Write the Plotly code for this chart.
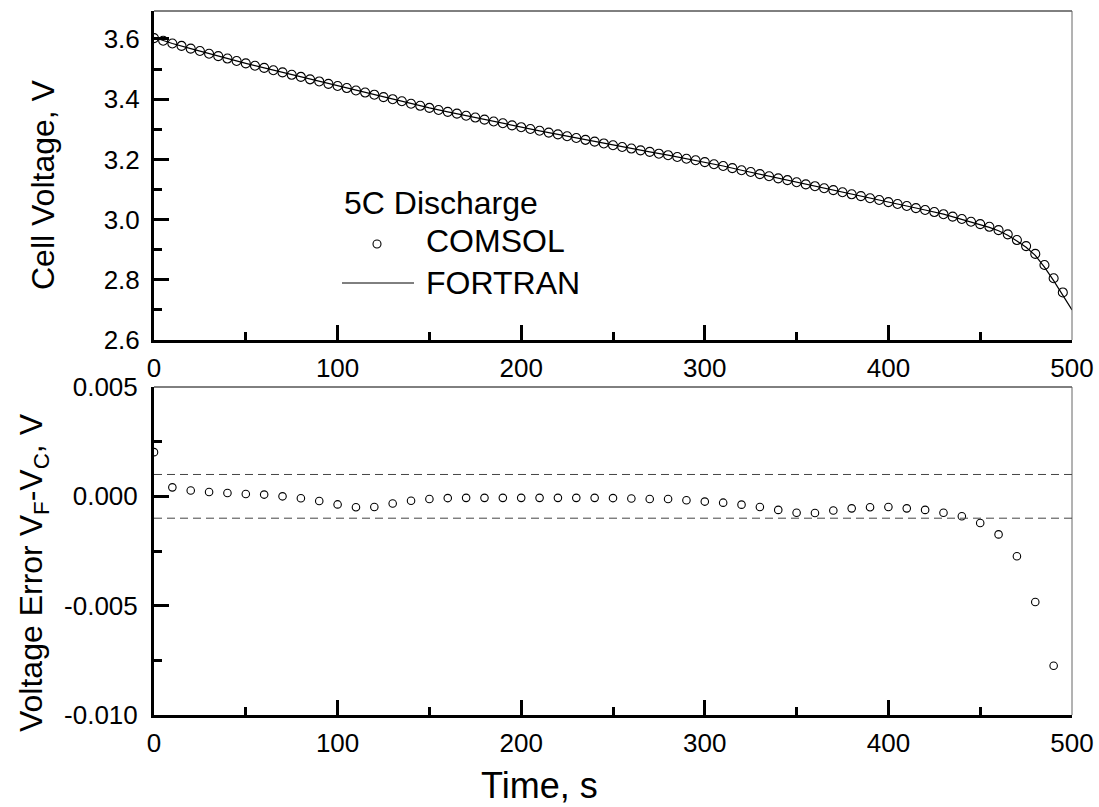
import plotly.graph_objects as go

# ---- data ----------------------------------------------------------------
# COMSOL cell voltage, sampled every 5 s (0 ... 495 s)
comsol_time = list(range(0, 500, 5))
comsol_voltage = [
    3.603, 3.594, 3.585, 3.577, 3.568, 3.560, 3.551, 3.543, 3.535, 3.527,
    3.519, 3.511, 3.504, 3.496, 3.489, 3.481, 3.474, 3.466, 3.459, 3.451,
    3.444, 3.437, 3.429, 3.422, 3.415, 3.407, 3.400, 3.393, 3.385, 3.378,
    3.371, 3.364, 3.358, 3.352, 3.345, 3.339, 3.332, 3.326, 3.320, 3.313,
    3.307, 3.301, 3.295, 3.289, 3.283, 3.277, 3.271, 3.265, 3.259, 3.253,
    3.247, 3.241, 3.236, 3.230, 3.225, 3.219, 3.214, 3.208, 3.202, 3.197,
    3.191, 3.184, 3.178, 3.171, 3.164, 3.158, 3.151, 3.144, 3.137, 3.131,
    3.124, 3.117, 3.111, 3.104, 3.098, 3.091, 3.084, 3.078, 3.071, 3.065,
    3.058, 3.052, 3.045, 3.038, 3.032, 3.025, 3.018, 3.010, 3.002, 2.993,
    2.985, 2.976, 2.965, 2.951, 2.932, 2.912, 2.886, 2.849, 2.805, 2.758,
]

# FORTRAN cell voltage
fortran_time = [
    0, 10, 20, 30, 40, 50, 60, 70, 80, 90, 100, 110, 120, 130, 140, 150,
    160, 170, 180, 190, 200, 210, 220, 230, 240, 250, 260, 270, 280, 290,
    300, 310, 320, 330, 340, 350, 360, 370, 380, 390, 400, 410, 420, 430,
    440, 445, 450, 455, 460, 465, 470, 475, 480, 485, 490, 495, 500,
]
fortran_voltage = [
    3.605, 3.585, 3.568, 3.551, 3.535, 3.519, 3.504, 3.489, 3.474, 3.459,
    3.444, 3.429, 3.415, 3.400, 3.385, 3.371, 3.358, 3.345, 3.332, 3.320,
    3.307, 3.295, 3.283, 3.271, 3.259, 3.247, 3.236, 3.225, 3.214, 3.202,
    3.191, 3.178, 3.164, 3.151, 3.137, 3.124, 3.111, 3.098, 3.084, 3.071,
    3.058, 3.045, 3.032, 3.018, 3.001, 2.992, 2.984, 2.974, 2.963, 2.948,
    2.929, 2.908, 2.881, 2.842, 2.797, 2.750, 2.700,
]

# Voltage error V_F - V_C, every 10 s (0 ... 490 s)
error_time = list(range(0, 500, 10))
error_value = [
    0.00202, 0.00041, 0.00027, 0.00020, 0.00015, 0.00011, 0.00008, 0.00000,
    -0.00009, -0.00021, -0.00037, -0.00050, -0.00049, -0.00033, -0.00020,
    -0.00012, -0.00008, -0.00007, -0.00007, -0.00007, -0.00007, -0.00007,
    -0.00007, -0.00007, -0.00007, -0.00008, -0.00010, -0.00012, -0.00012,
    -0.00018, -0.00024, -0.00029, -0.00038, -0.00049, -0.00062, -0.00075,
    -0.00076, -0.00065, -0.00055, -0.00050, -0.00049, -0.00055, -0.00062,
    -0.00075, -0.00091, -0.00122, -0.00174, -0.00274, -0.00483, -0.00775,
]

# tolerance band drawn as dashed lines
error_limits = [0.001, -0.001]

top_yticks = [2.6, 2.8, 3.0, 3.2, 3.4, 3.6]
bottom_yticks = [-0.010, -0.005, 0.000, 0.005]
bottom_yticktext = ["-0.010", "-0.005", "0.000", "0.005"]
time_ticks = [0, 100, 200, 300, 400, 500]

# ---- figure --------------------------------------------------------------
W, H = 1099, 807
FONT = "Arial, Liberation Sans, Helvetica, sans-serif"


def px_x(p):
    return p / W


def px_y(p):
    return 1 - p / H


fig = go.Figure()

fig.add_trace(go.Scatter(
    x=fortran_time, y=fortran_voltage, mode="lines",
    line=dict(color="black", width=1.2), name="FORTRAN",
    xaxis="x", yaxis="y", showlegend=False,
))
fig.add_trace(go.Scatter(
    x=comsol_time, y=comsol_voltage, mode="markers",
    marker=dict(symbol="circle-open", size=9, color="black",
                line=dict(width=1.1, color="black")),
    name="COMSOL", xaxis="x", yaxis="y", showlegend=False,
))
fig.add_trace(go.Scatter(
    x=error_time, y=error_value, mode="markers",
    marker=dict(symbol="circle-open", size=7.5, color="black",
                line=dict(width=1.1, color="black")),
    name="error", xaxis="x2", yaxis="y2", showlegend=False,
))

x_dom = [px_x(154), px_x(1072)]
top_dom = [px_y(340), px_y(11)]
bot_dom = [px_y(715), px_y(387)]

tickfont = dict(family=FONT, size=26, color="black")
common_axis = dict(
    showgrid=False, zeroline=False, showline=True, linecolor="black",
    linewidth=3, ticks="inside", ticklen=15, tickwidth=3, tickcolor="black",
    tickfont=tickfont, automargin=False,
)

fig.update_layout(
    width=W, height=H,
    margin=dict(l=0, r=0, t=0, b=0, pad=0, autoexpand=False),
    paper_bgcolor="white", plot_bgcolor="white",
    xaxis=dict(domain=x_dom, anchor="y", range=[0, 500],
               tickvals=time_ticks, ticklabelstandoff=3,
               minor=dict(ticks="inside", ticklen=8, tickwidth=3,
                          tickcolor="black", dtick=50),
               **common_axis),
    yaxis=dict(domain=top_dom, anchor="x", range=[2.6, 3.693],
               tickvals=top_yticks, tickformat=".1f", ticklabelstandoff=6,
               minor=dict(ticks="inside", ticklen=8, tickwidth=3,
                          tickcolor="black", dtick=0.1),
               **common_axis),
    xaxis2=dict(domain=x_dom, anchor="y2", range=[0, 500],
                tickvals=time_ticks, ticklabelstandoff=3,
                minor=dict(ticks="inside", ticklen=8, tickwidth=3,
                           tickcolor="black", dtick=50),
                **common_axis),
    yaxis2=dict(domain=bot_dom, anchor="x2", range=[-0.010, 0.005],
                tickvals=bottom_yticks, ticktext=bottom_yticktext,
                ticklabelstandoff=8,
                minor=dict(ticks="inside", ticklen=8, tickwidth=3,
                           tickcolor="black", dtick=0.0025),
                **common_axis),
    font=dict(family=FONT, color="black"),
)

shapes = []
# thin top / right frame edges of both panels
for xr, yr in (("x domain", "y domain"), ("x2 domain", "y2 domain")):
    shapes.append(dict(type="line", xref=xr, yref=yr, x0=0, x1=1, y0=1, y1=1,
                       line=dict(color="black", width=1)))
    shapes.append(dict(type="line", xref=xr, yref=yr, x0=1, x1=1, y0=0, y1=1,
                       line=dict(color="#666666", width=1)))
# dashed tolerance lines in the error panel
for lim in error_limits:
    shapes.append(dict(type="line", xref="x2 domain", yref="y2", x0=0, x1=1,
                       y0=lim, y1=lim,
                       line=dict(color="#444444", width=1, dash="8px,5px")))
# legend samples
shapes.append(dict(type="circle", xref="paper", yref="paper",
                   x0=px_x(373), x1=px_x(381), y0=px_y(248), y1=px_y(240),
                   line=dict(color="black", width=1.1)))
shapes.append(dict(type="line", xref="paper", yref="paper",
                   x0=px_x(342), x1=px_x(414), y0=px_y(283), y1=px_y(283),
                   line=dict(color="black", width=1)))
fig.update_layout(shapes=shapes)

big = dict(family=FONT, size=32, color="black")
annotations = [
    dict(text="5C Discharge", x=px_x(342), y=px_y(203), xanchor="left",
         yanchor="middle", font=big),
    dict(text="COMSOL", x=px_x(424), y=px_y(241), xanchor="left",
         yanchor="middle", font=big),
    dict(text="FORTRAN", x=px_x(424), y=px_y(283), xanchor="left",
         yanchor="middle", font=big),
    dict(text="Cell Voltage, V", x=px_x(43), y=px_y(185), textangle=-90,
         xanchor="center", yanchor="middle", font=big),
    dict(text="Voltage Error V<sub>F</sub>-V<sub>C</sub>, V", x=px_x(33),
         y=px_y(573), textangle=-90, xanchor="center", yanchor="middle",
         font=big),
    dict(text="Time, s", x=px_x(539), y=px_y(785), xanchor="center",
         yanchor="middle", font=dict(family=FONT, size=36, color="black")),
]
for a in annotations:
    a.update(xref="paper", yref="paper", showarrow=False)
fig.update_layout(annotations=annotations)

fig.write_html("out.html")
